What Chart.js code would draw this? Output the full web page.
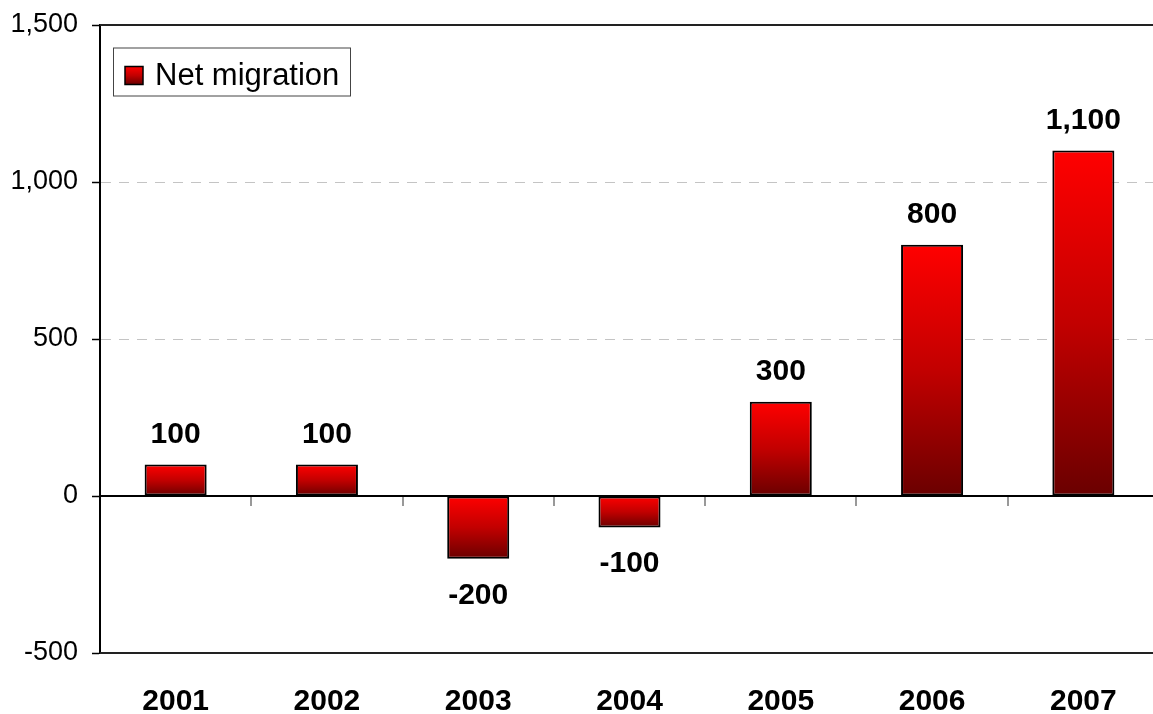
<!DOCTYPE html>
<html>
<head>
<meta charset="utf-8">
<title>Net migration</title>
<script src="https://cdn.jsdelivr.net/npm/chart.js@4/dist/chart.umd.min.js"></script>
<style>
  html, body { margin: 0; padding: 0; background: #fff; overflow: hidden; }
  #wrap { width: 1160px; height: 714px; position: relative; }
</style>
</head>
<body>
<div id="wrap"><canvas id="migration-chart"></canvas></div>
<script>
// chart data
const years = ["2001", "2002", "2003", "2004", "2005", "2006", "2007"];
const netMigration = [100, 100, -200, -100, 300, 800, 1100];
const yTickValues = [-500, 0, 500, 1000, 1500];
const seriesLabel = "Net migration";

const FONT = "Arial, 'Liberation Sans', sans-serif";

function redGradient(g) {
  g.addColorStop(0, "#ff0000");
  g.addColorStop(0.5, "#c20000");
  g.addColorStop(1, "#6a0000");
  return g;
}

// each bar gets its own top-to-bottom gradient
function barFill(context) {
  const chart = context.chart;
  const y = chart.scales.y;
  if (!y || context.type !== "data") return "#d00000";
  const v = netMigration[context.dataIndex];
  const top = y.getPixelForValue(Math.max(v, 0));
  const bottom = y.getPixelForValue(Math.min(v, 0));
  if (!Number.isFinite(top) || !Number.isFinite(bottom) || top === bottom) return "#d00000";
  return redGradient(chart.ctx.createLinearGradient(0, top, 0, bottom));
}

const decorPlugin = {
  id: "decor",
  beforeDatasetsDraw(chart) {
    const { ctx, chartArea: a, scales } = chart;
    const x = scales.x, y = scales.y;
    ctx.save();
    // dashed grid lines
    ctx.setLineDash([10, 8]);
    ctx.strokeStyle = "#c4c4c4";
    ctx.lineWidth = 1;
    y.ticks.forEach((t) => {
      if (t.value > y.min && t.value < y.max && t.value !== 0) {
        const py = Math.round(y.getPixelForValue(t.value)) + 0.5;
        ctx.beginPath();
        ctx.moveTo(a.left + 1, py);
        ctx.lineTo(a.right, py);
        ctx.stroke();
      }
    });
    ctx.setLineDash([]);
    // top and bottom frame
    ctx.strokeStyle = "#222";
    ctx.lineWidth = 2;
    ctx.beginPath();
    ctx.moveTo(a.left, a.top);
    ctx.lineTo(a.right, a.top);
    ctx.moveTo(a.left, a.bottom);
    ctx.lineTo(a.right, a.bottom);
    ctx.stroke();
    // category separators under the zero line
    const py0 = y.getPixelForValue(0);
    ctx.strokeStyle = "#777";
    ctx.lineWidth = 1.5;
    for (let i = 1; i < years.length; i++) {
      const px = Math.round((x.getPixelForValue(i - 1) + x.getPixelForValue(i)) / 2);
      ctx.beginPath();
      ctx.moveTo(px, py0);
      ctx.lineTo(px, py0 + 10);
      ctx.stroke();
    }
    ctx.restore();
  },
  afterDatasetsDraw(chart) {
    const { ctx, chartArea: a, scales } = chart;
    const y = scales.y;
    ctx.save();
    // zero line
    const py0 = y.getPixelForValue(0);
    ctx.strokeStyle = "#000";
    ctx.lineWidth = 2;
    ctx.beginPath();
    ctx.moveTo(a.left, py0);
    ctx.lineTo(a.right, py0);
    ctx.stroke();

    // value labels
    const meta = chart.getDatasetMeta(0);
    ctx.font = "bold 30px " + FONT;
    ctx.fillStyle = "#000";
    ctx.textAlign = "center";
    ctx.textBaseline = "alphabetic";
    meta.data.forEach((bar, i) => {
      const v = netMigration[i];
      const txt = v.toLocaleString("en-US");
      if (v >= 0) ctx.fillText(txt, bar.x, bar.y - 22);
      else ctx.fillText(txt, bar.x, bar.y + 45);
    });

    // legend box
    const lx = a.left + 13, ly = a.top + 22.5;
    ctx.fillStyle = "#fff";
    ctx.fillRect(lx, ly, 237, 48);
    ctx.strokeStyle = "#444";
    ctx.lineWidth = 1;
    ctx.strokeRect(lx + 0.5, ly + 0.5, 237, 48);
    const sx = lx + 12, sy = ly + 19;
    ctx.fillStyle = redGradient(ctx.createLinearGradient(0, sy, 0, sy + 18));
    ctx.fillRect(sx, sy, 18, 18);
    ctx.strokeStyle = "#000";
    ctx.lineWidth = 1.5;
    ctx.strokeRect(sx, sy, 18, 18);
    ctx.font = "31px " + FONT;
    ctx.fillStyle = "#000";
    ctx.textAlign = "left";
    ctx.fillText(chart.data.datasets[0].label, lx + 42, ly + 37);
    ctx.restore();
  },
};

const canvas = document.getElementById("migration-chart");
const chart = new Chart(canvas.getContext("2d"), {
  type: "bar",
  data: {
    labels: years,
    datasets: [
      {
        label: seriesLabel,
        data: netMigration,
        backgroundColor: barFill,
        borderColor: "#000",
        borderWidth: 2,
        borderSkipped: false,
        barPercentage: 0.41,
        categoryPercentage: 1,
      },
    ],
  },
  options: {
    responsive: true,
    maintainAspectRatio: false,
    animation: false,
    layout: { padding: { top: 25, right: 1, left: 0, bottom: 0 } },
    plugins: { legend: { display: false }, tooltip: { enabled: false } },
    scales: {
      x: {
        grid: { display: false, drawTicks: false },
        border: { display: false },
        ticks: {
          color: "#000",
          padding: 31,
          font: { family: FONT, size: 30, weight: "bold" },
        },
        afterFit(scale) { scale.height = 61; },
      },
      y: {
        min: -500,
        max: 1500,
        afterBuildTicks(scale) {
          scale.ticks = yTickValues.map((v) => ({ value: v }));
        },
        grid: { display: true, drawOnChartArea: false, tickLength: 8, tickColor: "#000", tickWidth: 1.5 },
        border: { display: true, color: "#000", width: 2 },
        ticks: {
          color: "#000",
          padding: 14,
          font: { family: FONT, size: 27 },
          callback: (v) => Number(v).toLocaleString("en-US"),
        },
        afterFit(scale) {
          scale.width = 100;
          scale.paddingTop = 0;
          scale.paddingBottom = 0;
        },
      },
    },
  },
  plugins: [decorPlugin],
});
</script>
</body>
</html>
